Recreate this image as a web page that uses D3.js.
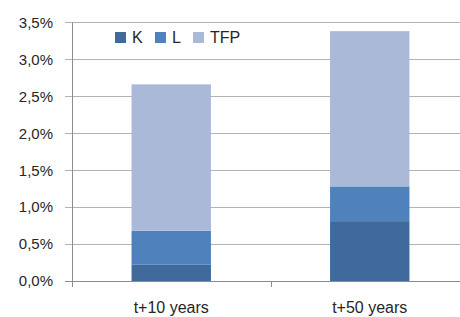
<!DOCTYPE html>
<html>
<head>
<meta charset="utf-8">
<script src="https://cdn.jsdelivr.net/npm/d3@7"></script>
<style>
  body { margin: 0; background: #fff; }
  text { font-family: "Liberation Sans", "DejaVu Sans", sans-serif; fill: #262626; }
</style>
</head>
<body>
<div id="chart"></div>
<script>
// data (percent)
let categories = ["t+10 years", "t+50 years"];
let seriesNames = ["K", "L", "TFP"];
let valuesK = [0.22, 0.81];
let valuesL = [0.46, 0.47];
let valuesTFP = [1.98, 2.10];
let yTicks = [0, 0.5, 1.0, 1.5, 2.0, 2.5, 3.0, 3.5];
let colors = ["#406a9b", "#4f81bd", "#aab9d7"];

let width = 460, height = 317;
let margin = { left: 72, right: -9, top: 22.3, bottom: 36 };

let svg = d3.select("#chart").append("svg")
    .attr("width", width)
    .attr("height", height);

let rows = categories.map((c, i) => ({ cat: c, K: valuesK[i], L: valuesL[i], TFP: valuesTFP[i] }));
let stacked = d3.stack().keys(seriesNames)(rows);

let x = d3.scaleBand()
    .domain(categories)
    .range([margin.left, width - margin.right])
    .paddingInner(0.6)
    .paddingOuter(0.3);

let y = d3.scaleLinear()
    .domain([0, 3.5])
    .range([height - margin.bottom, margin.top]);

// gridlines
svg.append("g")
    .selectAll("line")
    .data(yTicks)
    .enter().append("line")
    .attr("x1", margin.left - 7)
    .attr("x2", width)
    .attr("y1", d => Math.round(y(d)) + 0.5)
    .attr("y2", d => Math.round(y(d)) + 0.5)
    .attr("stroke", d => d === 0 ? "#8c8c8c" : "#b3b3b3")
    .attr("stroke-width", 1);

// y labels
svg.append("g")
    .selectAll("text")
    .data(yTicks)
    .enter().append("text")
    .attr("x", 53)
    .attr("y", d => y(d))
    .attr("dy", "0.36em")
    .attr("text-anchor", "end")
    .attr("font-size", "15px")
    .text(d => d.toFixed(1).replace(".", ",") + "%");

// bars
svg.append("g")
    .selectAll("g")
    .data(stacked)
    .enter().append("g")
    .attr("fill", (d, i) => colors[i])
    .selectAll("rect")
    .data(d => d)
    .enter().append("rect")
    .attr("x", d => x(d.data.cat))
    .attr("y", d => y(d[1]))
    .attr("width", x.bandwidth())
    .attr("height", d => y(d[0]) - y(d[1]));

// y axis line
svg.append("line")
    .attr("x1", margin.left + 0.5).attr("x2", margin.left + 0.5)
    .attr("y1", margin.top).attr("y2", Math.round(y(0)) + 0.5)
    .attr("stroke", "#8c8c8c");

// x axis ticks (between categories)
let edges = [margin.left, (x(categories[0]) + x(categories[1]) + x.bandwidth()) / 2];
svg.append("g")
    .selectAll("line")
    .data(edges)
    .enter().append("line")
    .attr("x1", d => Math.round(d) + 0.5)
    .attr("x2", d => Math.round(d) + 0.5)
    .attr("y1", Math.round(y(0)))
    .attr("y2", Math.round(y(0)) + 6)
    .attr("stroke", "#8c8c8c");

// category labels
svg.append("g")
    .selectAll("text")
    .data(categories)
    .enter().append("text")
    .attr("x", d => x(d) + x.bandwidth() / 2)
    .attr("y", 313)
    .attr("text-anchor", "middle")
    .attr("font-size", "16px")
    .text(d => d);

// legend
let legendX = [115, 155, 193];
let legend = svg.append("g")
    .selectAll("g")
    .data(seriesNames)
    .enter().append("g")
    .attr("transform", (d, i) => "translate(" + legendX[i] + ",32)");

legend.append("rect")
    .attr("width", 11)
    .attr("height", 11)
    .attr("fill", (d, i) => colors[i]);

legend.append("text")
    .attr("x", 17)
    .attr("y", 11)
    .attr("font-size", "16px")
    .text(d => d);
</script>
</body>
</html>
